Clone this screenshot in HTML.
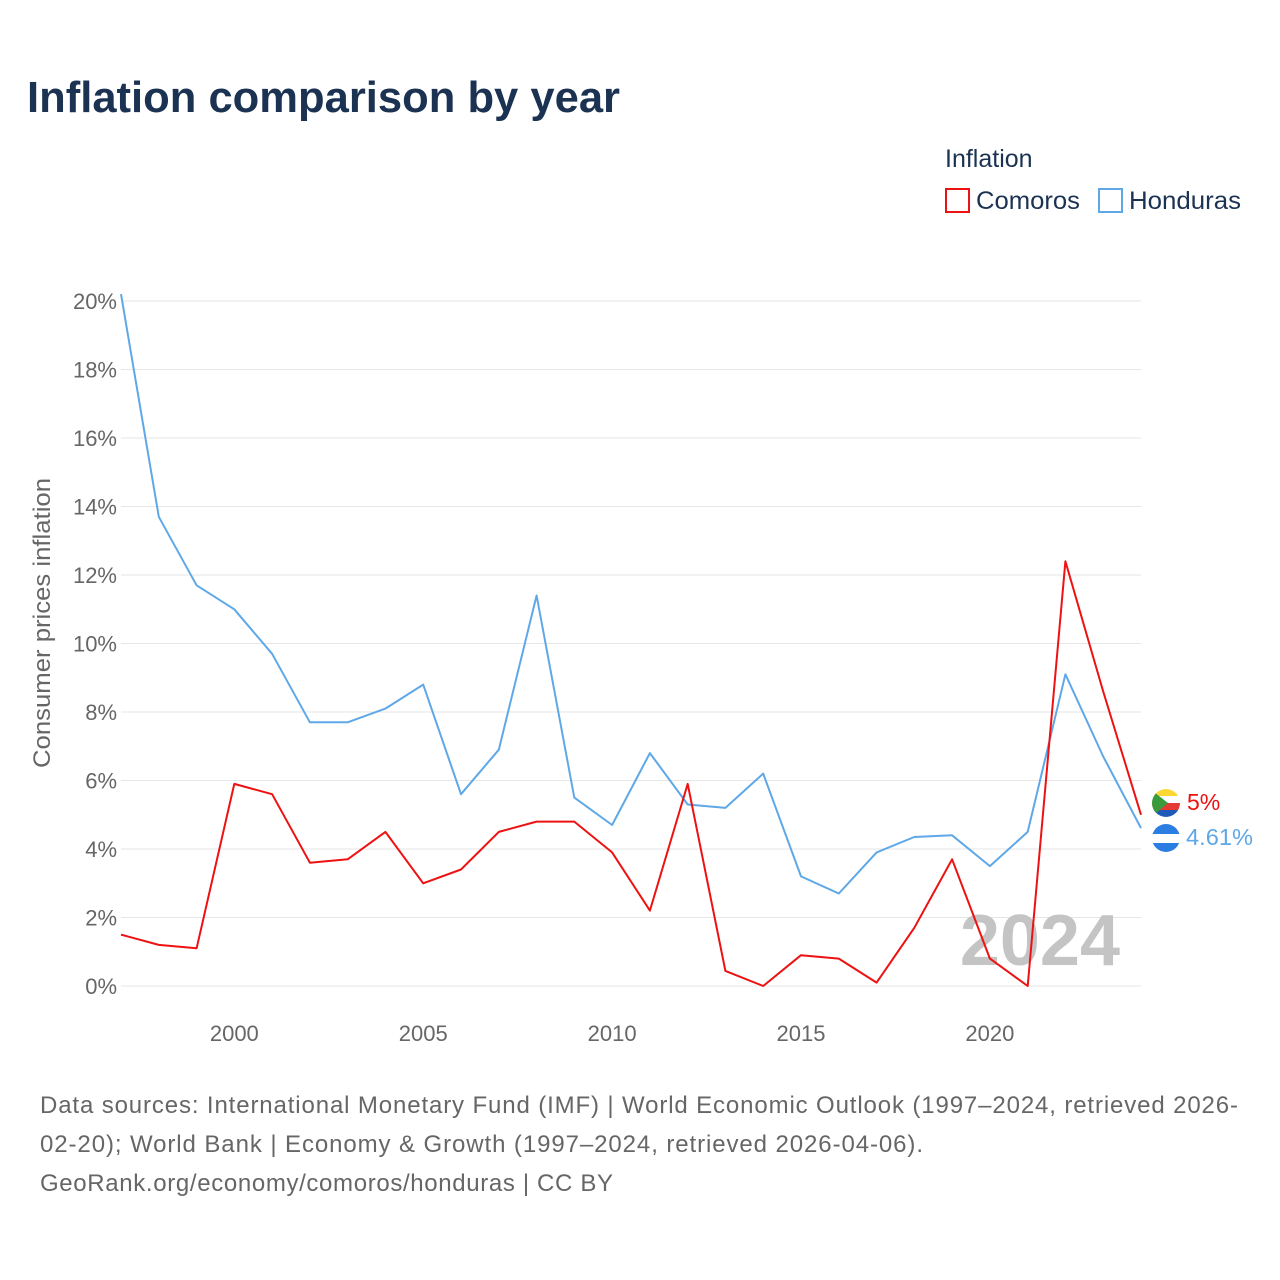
<!DOCTYPE html>
<html><head><meta charset="utf-8">
<style>
body{margin:0;background:#fff;font-family:"Liberation Sans",sans-serif;}
#wrap{position:relative;width:1280px;height:1280px;overflow:hidden;}
</style></head>
<body>
<div id="wrap">
<svg id="chart" width="1280" height="1280">
<text x="27" y="112" font-size="44" font-weight="bold" fill="#1b3252" textLength="593" lengthAdjust="spacingAndGlyphs">Inflation comparison by year</text>
<text x="945" y="167" font-size="25" fill="#1b3252">Inflation</text>
<g>
<rect x="946" y="189" width="23" height="23" fill="none" stroke="#ee1111" stroke-width="2"/>
<text x="976" y="209" font-size="25" fill="#1b3252" textLength="104" lengthAdjust="spacingAndGlyphs">Comoros</text></g>
<g>
<rect x="1099" y="189" width="23" height="23" fill="none" stroke="#5fa8e8" stroke-width="2"/>
<text x="1129" y="209" font-size="25" fill="#1b3252" textLength="112" lengthAdjust="spacingAndGlyphs">Honduras</text></g>
<g id="grid"></g><g id="yt"></g><g id="xt"></g>
<text x="50" y="623" font-size="24" fill="#666" transform="rotate(-90 50 623)" text-anchor="middle" textLength="290" lengthAdjust="spacingAndGlyphs">Consumer prices inflation</text>
<text x="1120" y="965" font-size="72" font-weight="bold" fill="#c4c4c4" text-anchor="end">2024</text>
<g id="series"></g>
<g>
<clipPath id="c1"><circle cx="1166" cy="803" r="14"/></clipPath>
<g clip-path="url(#c1)"><rect x="1150" y="789" width="32" height="7" fill="#fdd835"/><rect x="1150" y="796" width="32" height="7" fill="#fff"/><rect x="1150" y="803" width="32" height="7" fill="#e53935"/><rect x="1150" y="810" width="32" height="8" fill="#1e5ab8"/><polygon points="1150,789 1168,803 1150,818" fill="#3a9b3a"/></g></g>
<g>
<clipPath id="c2"><circle cx="1166" cy="838" r="14"/></clipPath>
<g clip-path="url(#c2)"><rect x="1150" y="824" width="32" height="10" fill="#2a7de1"/><rect x="1150" y="834" width="32" height="9" fill="#fff"/><rect x="1150" y="843" width="32" height="10" fill="#2a7de1"/></g></g>
<text x="1187" y="810" font-size="23" fill="#ee1111">5%</text>
<text x="1186" y="845" font-size="23" fill="#5fa8e8" textLength="67" lengthAdjust="spacingAndGlyphs">4.61%</text>
<text font-size="24" fill="#666" lengthAdjust="spacingAndGlyphs">
<tspan x="40" y="1113" textLength="1198">Data sources: International Monetary Fund (IMF) | World Economic Outlook (1997–2024, retrieved 2026-</tspan>
<tspan x="40" y="1152" textLength="883">02-20); World Bank | Economy &amp; Growth (1997–2024, retrieved 2026-04-06).</tspan>
<tspan x="40" y="1191" textLength="573">GeoRank.org/economy/comoros/honduras | CC BY</tspan></text>
</svg>
</div>
<script>
const years=[1997,1998,1999,2000,2001,2002,2003,2004,2005,2006,2007,2008,2009,2010,2011,2012,2013,2014,2015,2016,2017,2018,2019,2020,2021,2022,2023,2024];
const honduras=[20.2,13.7,11.7,11.0,9.7,7.7,7.7,8.1,8.8,5.6,6.9,11.4,5.5,4.7,6.8,5.3,5.2,6.2,3.2,2.7,3.9,4.35,4.4,3.5,4.5,9.1,6.7,4.61];
const comoros=[1.5,1.2,1.1,5.9,5.6,3.6,3.7,4.5,3.0,3.4,4.5,4.8,4.8,3.9,2.2,5.9,0.44,0,0.9,0.8,0.1,1.7,3.7,0.8,0,12.4,8.6,5.0];
const yTicks=[0,2,4,6,8,10,12,14,16,18,20];
const xTicks=[2000,2005,2010,2015,2020];
const NS="http://www.w3.org/2000/svg";
const X=y=>121+(y-1997)*(1141-121)/27;
const Y=v=>986-v*34.25;
function mk(t,a,p){const e=document.createElementNS(NS,t);for(const k in a)e.setAttribute(k,a[k]);p.appendChild(e);return e;}
const grid=document.getElementById('grid'),yt=document.getElementById('yt'),xt=document.getElementById('xt'),ser=document.getElementById('series');
yTicks.forEach(v=>{
 const l=mk('line',{x1:121,x2:1141,y1:Y(v),y2:Y(v),stroke:'#e6e6e6','stroke-width':1},grid);
 
 
 const t=mk('text',{x:117,y:Y(v)+8,'font-size':22,fill:'#666','text-anchor':'end'},yt);
 t.textContent=v+'%';
 
 
});
xTicks.forEach(v=>{
 const t=mk('text',{x:X(v),y:1041,'font-size':22,fill:'#666','text-anchor':'middle'},xt);
 t.textContent=v;
 
 
});
function line(vals,color,name){
 const d=vals.map((v,i)=>(i?'L':'M')+X(years[i]).toFixed(1)+','+Y(v).toFixed(1)).join('');
 const p=mk('path',{d:d,fill:'none',stroke:color,'stroke-width':2,'stroke-linejoin':'round'},ser);
 
 
}
line(honduras,'#5fa8e8','honduras-line');
line(comoros,'#ee1111','comoros-line');
</script>
</body></html>
